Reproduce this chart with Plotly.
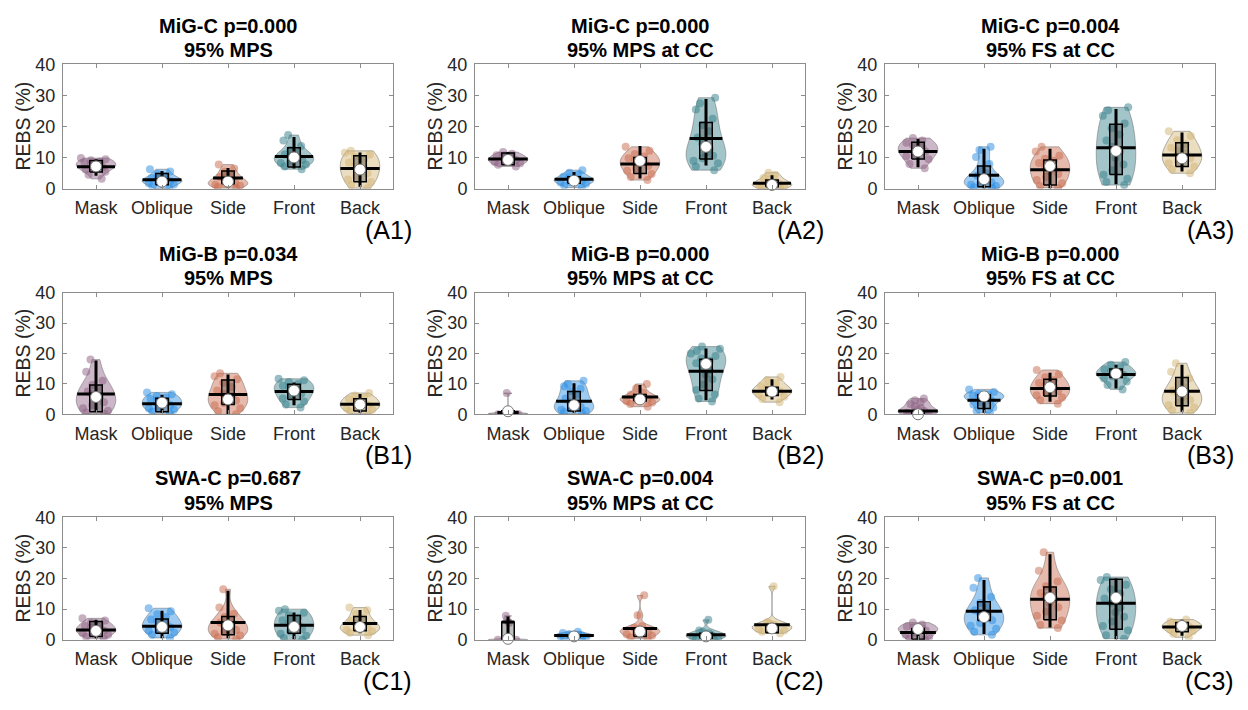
import numpy as np
import plotly.graph_objects as go

# ---------------------------------------------------------------- data
CATEGORIES = ["Mask", "Oblique", "Side", "Front", "Back"]
PANELS = ["A1", "A2", "A3", "B1", "B2", "B3", "C1", "C2", "C3"]

TITLE_TOP = ["MiG-C p=0.000", "MiG-C p=0.000", "MiG-C p=0.004",
             "MiG-B p=0.034", "MiG-B p=0.000", "MiG-B p=0.000",
             "SWA-C p=0.687", "SWA-C p=0.004", "SWA-C p=0.001"]
TITLE_BOTTOM = ["95% MPS", "95% MPS at CC", "95% FS at CC"] * 3

Y_TICKS = [0, 10, 20, 30, 40]

# individual REBS samples (%), one list per category: Mask, Oblique, Side, Front, Back
samples = {
    "A1": [[3.2, 4.5, 5.5, 6.2, 6.6, 7.0, 7.2, 7.5, 8.0, 8.5, 8.8, 9.2, 9.5, 9.9],
           [0.1, 0.8, 1.4, 1.8, 2.1, 2.4, 2.6, 2.9, 3.2, 3.5, 4.0, 4.8, 5.6, 6.3],
           [0.2, 0.6, 1.0, 1.3, 1.6, 1.9, 2.2, 2.6, 3.2, 3.8, 4.6, 5.5, 6.5, 7.8],
           [6.3, 7.2, 7.8, 8.3, 8.8, 9.3, 9.8, 10.2, 10.6, 11.0, 11.6, 12.5, 13.8, 15.5, 17.3],
           [0.2, 1.2, 2.2, 3.0, 4.0, 5.0, 6.0, 6.8, 7.6, 8.5, 9.4, 10.3, 11.0, 11.6, 12.2]],
    "A2": [[7.2, 7.7, 8.2, 8.6, 9.0, 9.3, 9.6, 9.9, 10.3, 10.8, 11.3, 11.8],
           [0.4, 1.0, 1.6, 2.0, 2.3, 2.6, 2.9, 3.2, 3.5, 3.9, 4.5, 5.2, 6.0],
           [2.8, 3.8, 4.8, 5.8, 6.6, 7.3, 8.0, 8.6, 9.2, 9.8, 10.4, 11.2, 12.2, 13.5],
           [6.0, 7.2, 8.2, 9.0, 9.8, 10.6, 11.5, 12.8, 14.5, 16.5, 18.5, 20.5, 22.5, 25.5, 27.5, 29.3],
           [0.1, 0.4, 0.7, 1.0, 1.3, 1.6, 1.9, 2.3, 2.8, 3.5, 4.5, 5.2]],
    "A3": [[6.6, 8.0, 9.5, 10.5, 11.3, 12.0, 12.6, 13.3, 14.0, 14.8, 15.5, 16.3],
           [0.2, 0.5, 0.9, 1.3, 1.7, 2.1, 2.5, 3.0, 3.5, 4.2, 5.0, 6.2, 8.0, 10.2, 12.5, 13.5],
           [0.3, 0.9, 1.8, 2.8, 3.8, 4.8, 5.7, 6.5, 7.4, 8.3, 9.0, 9.7, 10.6, 12.0, 13.5],
           [1.2, 2.2, 3.2, 4.5, 6.0, 7.8, 10.0, 12.0, 13.5, 15.5, 17.5, 19.5, 21.0, 23.5, 25.3, 26.2],
           [5.0, 6.2, 7.2, 8.2, 9.0, 9.8, 10.6, 11.4, 12.3, 13.2, 14.3, 15.6, 17.0, 18.5]],
    "B1": [[0.2, 0.6, 1.2, 2.0, 3.0, 4.0, 5.0, 5.8, 6.7, 7.5, 8.5, 9.6, 11.0, 14.0, 18.0],
           [0.3, 0.9, 1.5, 2.0, 2.5, 3.0, 3.5, 4.0, 4.5, 5.0, 5.5, 6.0, 6.6, 7.2],
           [0.0, 1.0, 2.0, 3.0, 3.7, 4.5, 5.3, 6.0, 6.8, 7.8, 9.0, 10.3, 11.5, 12.5, 13.5],
           [2.2, 3.2, 4.2, 5.2, 6.0, 6.8, 7.5, 8.2, 8.8, 9.4, 10.0, 10.6, 11.2, 11.7],
           [0.3, 0.9, 1.5, 2.0, 2.5, 3.0, 3.4, 3.9, 4.4, 5.0, 5.6, 6.2, 7.0]],
    "B2": [[0.0, 0.0, 0.1, 0.2, 0.3, 0.4, 0.5, 0.8, 7.0],
           [0.2, 0.7, 1.1, 1.5, 1.9, 2.3, 2.8, 3.3, 4.0, 5.2, 6.5, 7.6, 8.4, 9.2, 10.0, 11.0],
           [2.5, 3.4, 3.9, 4.3, 4.6, 4.9, 5.2, 5.5, 5.9, 6.4, 7.2, 8.6, 10.0],
           [4.2, 5.2, 6.5, 8.0, 9.8, 11.5, 13.0, 14.5, 15.8, 16.8, 17.6, 18.4, 19.2, 20.0, 20.8, 21.6, 22.3],
           [4.0, 5.0, 5.8, 6.5, 7.0, 7.4, 7.8, 8.2, 8.7, 9.3, 10.2, 11.2, 12.3]],
    "B3": [[0.0, 0.1, 0.3, 0.5, 0.8, 1.1, 1.5, 2.0, 2.6, 3.3, 4.0, 4.6, 5.2],
           [0.4, 1.2, 2.2, 3.2, 4.0, 4.6, 5.2, 5.6, 5.9, 6.2, 6.5, 6.8, 7.3, 8.2],
           [3.5, 4.6, 5.5, 6.3, 7.0, 7.7, 8.3, 8.9, 9.5, 10.3, 11.2, 12.2, 13.2, 14.6],
           [8.2, 9.6, 10.8, 11.8, 12.4, 12.9, 13.3, 13.7, 14.2, 14.8, 15.5, 16.3, 17.2],
           [0.4, 1.3, 2.2, 3.0, 3.8, 4.6, 5.4, 6.2, 7.0, 7.8, 8.8, 10.0, 11.8, 14.0, 16.8]],
    "C1": [[0.3, 1.0, 1.6, 2.1, 2.5, 2.9, 3.2, 3.6, 4.0, 4.5, 5.0, 5.6, 6.3, 7.0],
           [0.6, 1.6, 2.4, 3.0, 3.6, 4.1, 4.6, 5.2, 5.9, 6.6, 7.4, 8.3, 9.3, 10.3],
           [0.2, 0.8, 1.4, 2.0, 2.6, 3.2, 3.8, 4.4, 5.0, 5.6, 6.4, 7.4, 8.5, 10.5, 16.5],
           [0.0, 0.6, 1.3, 2.0, 2.8, 3.5, 4.2, 4.9, 5.6, 6.4, 7.2, 8.0, 8.8, 9.5, 10.0],
           [1.5, 2.3, 2.8, 3.2, 3.6, 4.0, 4.4, 4.9, 5.4, 6.2, 7.2, 8.4, 9.6, 10.5]],
    "C2": [[0.0, 0.0, 0.0, 0.0, 0.1, 0.2, 0.3, 5.5, 6.5, 7.8],
           [0.3, 0.6, 0.9, 1.1, 1.3, 1.4, 1.5, 1.7, 1.9, 2.2, 2.6],
           [0.3, 0.8, 1.3, 1.8, 2.3, 2.7, 3.0, 3.2, 3.5, 3.9, 4.4, 8.0, 14.5],
           [0.0, 0.3, 0.6, 0.9, 1.2, 1.5, 1.8, 2.1, 2.5, 3.0, 6.5],
           [2.1, 2.6, 3.0, 3.4, 3.8, 4.2, 4.6, 4.9, 5.3, 5.8, 17.5]],
    "C3": [[0.0, 0.3, 0.9, 1.6, 2.3, 3.0, 3.4, 3.7, 4.0, 4.3, 5.0, 5.6],
           [1.6, 2.6, 3.6, 4.6, 5.5, 6.4, 7.2, 8.0, 8.8, 9.6, 10.6, 12.0, 14.0, 17.0, 20.2],
           [3.8, 4.8, 6.3, 7.8, 9.2, 10.6, 12.0, 13.2, 14.3, 15.3, 16.3, 17.5, 19.0, 22.5, 28.6],
           [0.3, 1.5, 3.0, 4.5, 6.0, 7.5, 9.0, 10.5, 12.0, 13.5, 15.0, 16.5, 18.0, 19.5, 20.5],
           [0.8, 2.0, 2.8, 3.3, 3.8, 4.2, 4.6, 5.0, 5.5, 6.0, 6.6]],
}

# summary statistics per category (Mask, Oblique, Side, Front, Back)
center_line = {  # thick horizontal bar
    "A1": [7.1, 2.9, 3.5, 10.4, 6.5], "A2": [9.6, 3.1, 8.0, 16.2, 1.8],
    "A3": [12.0, 4.4, 6.1, 13.2, 10.9], "B1": [6.7, 3.5, 6.5, 7.5, 3.3],
    "B2": [0.6, 4.3, 5.7, 14.2, 7.6], "B3": [1.1, 4.6, 8.5, 13.1, 7.6],
    "C1": [3.2, 4.4, 5.6, 4.7, 5.3], "C2": [5.8, 1.4, 3.7, 1.6, 4.9],
    "C3": [2.4, 9.3, 13.2, 11.9, 4.2],
}
center_dot = {  # white marker
    "A1": [7.2, 2.3, 2.3, 10.1, 6.2], "A2": [9.3, 2.6, 9.0, 13.5, 1.25],
    "A3": [12.0, 3.1, 7.3, 12.2, 9.8], "B1": [5.7, 3.8, 4.9, 7.8, 3.2],
    "B2": [1.0, 3.0, 4.9, 16.6, 7.5], "B3": [0.0, 5.9, 8.9, 13.4, 7.5],
    "C1": [2.9, 4.2, 4.7, 4.2, 4.2], "C2": [0.3, 1.1, 2.7, 1.1, 3.7],
    "C3": [3.5, 7.4, 13.7, 13.7, 4.5],
}
q1 = {
    "A1": [5.4, 1.3, 1.6, 7.0, 2.3], "A2": [7.7, 1.8, 4.9, 9.6, 0.7],
    "A3": [9.6, 0.7, 1.25, 4.6, 7.2], "B1": [0.85, 0.85, 3.2, 4.9, 1.1],
    "B2": [0.0, 1.1, 4.4, 7.8, 6.2], "B3": [0.0, 1.9, 6.0, 12.1, 2.8],
    "C1": [1.1, 2.1, 1.6, 2.1, 2.9], "C2": [0.0, 1.0, 1.1, 0.5, 2.3],
    "C3": [0.2, 6.3, 6.5, 3.4, 2.6],
}
q3 = {
    "A1": [9.1, 4.9, 5.7, 13.2, 10.6], "A2": [11.5, 3.9, 10.1, 21.3, 2.8],
    "A3": [15.0, 7.3, 9.3, 20.8, 14.8], "B1": [9.6, 5.3, 11.3, 9.9, 5.1],
    "B2": [1.2, 7.5, 6.5, 18.1, 8.9], "B3": [1.1, 6.4, 11.5, 14.9, 12.1],
    "C1": [6.0, 6.8, 7.6, 7.9, 7.6], "C2": [5.8, 1.6, 3.7, 2.1, 4.9],
    "C3": [3.7, 12.4, 17.2, 19.8, 5.6],
}
whisker_low = {
    "A1": [4.2, 0.5, 0.4, 6.5, 0.7], "A2": [7.5, 1.2, 3.3, 7.5, 0.2],
    "A3": [6.9, 0.2, 0.2, 1.5, 5.6], "B1": [0.85, 0.5, 0.0, 3.0, 0.5],
    "B2": [0.0, 0.5, 3.2, 4.6, 4.9], "B3": [0.0, 0.5, 4.1, 8.5, 0.85],
    "C1": [0.5, 0.5, 0.5, 0.2, 2.1], "C2": [0.0, 0.8, 0.8, 0.2, 2.3],
    "C3": [0.2, 1.9, 4.0, 0.2, 1.3],
}
whisker_high = {
    "A1": [9.5, 5.7, 6.7, 16.7, 11.7], "A2": [11.8, 5.4, 13.8, 28.9, 4.4],
    "A3": [16.0, 12.9, 12.9, 25.7, 18.1], "B1": [17.7, 6.4, 13.1, 10.5, 6.7],
    "B2": [1.2, 10.2, 9.6, 21.7, 11.5], "B3": [1.1, 7.5, 13.7, 16.3, 16.3],
    "C1": [6.5, 9.5, 16.0, 8.9, 9.7], "C2": [7.6, 2.8, 4.4, 2.6, 4.9],
    "C3": [3.7, 19.5, 27.9, 20.0, 6.5],
}

# ---------------------------------------------------------------- style
W, H = 1248, 710
COL_X = [(63, 393), (475, 805), (885, 1215)]      # pixel extents of plot areas
ROW_Y = [(56, 184), (291, 416), (522, 648)]
FONT = "Liberation Sans, Arial, sans-serif"
TEXT = "rgb(38,38,38)"
AXIS = "rgb(140,140,140)"
BASE = [(140, 95, 130), (40, 140, 225), (200, 105, 75), (50, 125, 135), (210, 180, 115)]
VIOLIN_W = 0.6
BOX_HALF = 0.095


def rgba(c, a):
    return f"rgba({c[0]},{c[1]},{c[2]},{a})"


def ks_bandwidth(vals):
    """Normal-reference bandwidth with a robust (MAD) spread estimate."""
    v = np.asarray(vals, float)
    sig = np.median(np.abs(v - np.median(v))) / 0.6745
    if sig <= 0:
        sig = v.max() - v.min()
    if sig <= 0:
        return 1.0
    return sig * (4.0 / (3.0 * v.size)) ** 0.2


def gauss_kde(v, grid, bw):
    z = (grid[:, None] - v[None, :]) / bw
    return np.exp(-0.5 * z ** 2).sum(axis=1) / (v.size * bw * np.sqrt(2 * np.pi))


def violin_half_width(vals, level, bw):
    v = np.asarray(vals, float)
    lo, hi = v.min(), v.max()
    n = max(int(np.ceil((hi - lo) / (bw / 3))), 1)
    grid = np.linspace(lo, hi, n + 1)
    dmax = gauss_kde(v, grid, bw).max()
    level = min(max(level, lo), hi)
    return VIOLIN_W / 2 * gauss_kde(v, np.array([level]), bw)[0] / dmax


fig = go.Figure()
annotations = []
layout_axes = {}

for k, pid in enumerate(PANELS):
    r, c = divmod(k, 3)
    xa = "x" if k == 0 else f"x{k + 1}"
    ya = "y" if k == 0 else f"y{k + 1}"
    x0, x1 = COL_X[c]
    y0, y1 = ROW_Y[r]

    common = dict(showline=True, linecolor=AXIS, linewidth=1, mirror="ticks",
                  ticks="inside", ticklen=4, tickwidth=1, tickcolor=AXIS,
                  showgrid=False, zeroline=False, fixedrange=True,
                  tickfont=dict(family=FONT, size=18, color=TEXT))
    layout_axes["xaxis" if k == 0 else f"xaxis{k + 1}"] = dict(
        common, domain=[x0 / W, x1 / W], anchor=ya, range=[-0.5, 4.5],
        tickvals=list(range(len(CATEGORIES))), ticktext=CATEGORIES,
        ticklabelstandoff=3)
    layout_axes["yaxis" if k == 0 else f"yaxis{k + 1}"] = dict(
        common, domain=[1 - y1 / H, 1 - y0 / H], anchor=xa, range=[0, 40],
        tickvals=Y_TICKS, ticklabelstandoff=3)

    box_x, box_y, wx, wy, mx, my = [], [], [], [], [], []
    for i, vals in enumerate(samples[pid]):
        bw = ks_bandwidth(vals)
        fig.add_trace(go.Violin(
            x=[i] * len(vals), y=vals, xaxis=xa, yaxis=ya,
            width=VIOLIN_W, scalemode="width", spanmode="hard", bandwidth=bw,
            fillcolor=rgba(BASE[i], 0.45), line=dict(color="rgba(90,90,90,0.55)", width=0.8),
            points="all", pointpos=0, jitter=0.8,
            marker=dict(color=rgba(BASE[i], 0.5), size=8, line=dict(width=0)),
            box_visible=False, meanline_visible=False, showlegend=False,
            hoverinfo="y"))
        a, b = q1[pid][i], q3[pid][i]
        box_x += [i - BOX_HALF, i + BOX_HALF, i + BOX_HALF, i - BOX_HALF, i - BOX_HALF, None]
        box_y += [a, a, b, b, a, None]
        wx += [i, i, None]
        wy += [whisker_low[pid][i], whisker_high[pid][i], None]
        lvl = center_line[pid][i]
        hw = max(violin_half_width(vals, lvl, bw), BOX_HALF)
        mx += [i - hw, i + hw, None]
        my += [lvl, lvl, None]

    fig.add_trace(go.Scatter(x=box_x, y=box_y, xaxis=xa, yaxis=ya, mode="lines",
                             fill="toself", fillcolor="rgba(70,70,70,0.35)",
                             line=dict(color="black", width=1.5), showlegend=False,
                             hoverinfo="skip"))
    fig.add_trace(go.Scatter(x=wx, y=wy, xaxis=xa, yaxis=ya, mode="lines",
                             line=dict(color="black", width=3), showlegend=False,
                             hoverinfo="skip"))
    fig.add_trace(go.Scatter(x=mx, y=my, xaxis=xa, yaxis=ya, mode="lines",
                             line=dict(color="black", width=3), showlegend=False,
                             hoverinfo="skip"))
    fig.add_trace(go.Scatter(x=list(range(len(CATEGORIES))), y=center_dot[pid],
                             xaxis=xa, yaxis=ya, mode="markers", cliponaxis=False,
                             marker=dict(color="white", size=11,
                                         line=dict(color="rgb(120,120,120)", width=1)),
                             showlegend=False, hoverinfo="y"))

    cx = (x0 + x1) / 2 / W
    annotations += [
        dict(text=f"<b>{TITLE_TOP[k]}</b>", x=cx, y=1 - (y0 - 40) / H,
             xref="paper", yref="paper", xanchor="center", yanchor="middle",
             showarrow=False, font=dict(family=FONT, size=20, color="black")),
        dict(text=f"<b>{TITLE_BOTTOM[k]}</b>", x=cx, y=1 - (y0 - 15) / H,
             xref="paper", yref="paper", xanchor="center", yanchor="middle",
             showarrow=False, font=dict(family=FONT, size=20, color="black")),
        dict(text="REBS (%)", x=(x0 - 40) / W, y=1 - (y0 + y1) / 2 / H, textangle=-90,
             xref="paper", yref="paper", xanchor="center", yanchor="middle",
             showarrow=False, font=dict(family=FONT, size=19.5, color=TEXT)),
        dict(text=f"({pid})", x=(x1 + 21) / W, y=1 - (y1 + 42) / H,
             xref="paper", yref="paper", xanchor="right", yanchor="middle",
             showarrow=False, font=dict(family=FONT, size=25, color="black")),
    ]

fig.update_layout(
    width=W, height=H, margin=dict(l=0, r=0, t=0, b=0),
    paper_bgcolor="white", plot_bgcolor="white",
    violinmode="overlay", showlegend=False,
    font=dict(family=FONT, color=TEXT),
    annotations=annotations, **layout_axes,
)

fig.write_html("out.html")
